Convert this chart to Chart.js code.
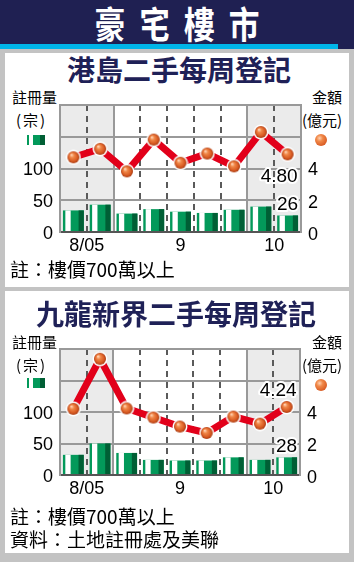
<!DOCTYPE html>
<html>
<head>
<meta charset="utf-8">
<script src="https://cdn.jsdelivr.net/npm/chart.js@4"></script>
<style>
  body { margin: 0; background: #fff; }
  #wrap { position: relative; width: 354px; height: 562px; background: #c3c3c3; overflow: hidden; font-family: "Noto Sans CJK TC", sans-serif; }
  .abs { position: absolute; white-space: nowrap; }
  .panel { position: absolute; left: 5px; width: 344px; background: #fff; }
  .title { left: 0; width: 354px; text-align: center; font-weight: bold; font-size: 28px; line-height: 28px; color: #1f2157; }
  .unit { font-size: 15px; line-height: 15px; color: #000; }
  .note { left: 10px; font-size: 19px; line-height: 19px; color: #000; }
  .ball { position: absolute; width: 12px; height: 12px; border-radius: 50%;
          background: radial-gradient(circle at 38% 35%, #ffd0b0 0, #f08848 30%, #d85a22 75%, #a83a10 100%); }
  .barIcon { position: absolute; width: 18px; height: 10px; }
  .barIcon i { position: absolute; top: 0; height: 10px; }
  canvas { position: absolute; left: 0; }
</style>
</head>
<body>
<div id="wrap">
  <div class="abs" style="left:0;top:0;width:354px;height:44px;background:#1f2052"></div>
  <div class="abs" style="left:0;top:44px;width:338px;height:5px;background:#00b5e8"></div>
  <div class="abs" style="left:338px;top:44px;width:16px;height:5px;background:#1f2052"></div>
  <div class="abs" style="left:0;top:5px;width:354px;text-align:center;color:#fff;font-weight:bold;font-size:37px;line-height:37px;letter-spacing:17px;padding-left:17px;box-sizing:border-box;transform:scaleX(0.83)">豪宅樓市</div>

  <div class="panel" style="top:53px;height:234px"></div>
  <div class="panel" style="top:291px;height:262px"></div>

  <div class="abs title" style="top:55px;left:2px">港島二手每周登記</div>
  <div class="abs unit" style="left:12px;top:89px">註冊量</div>
  <div class="abs unit" style="left:16px;top:112px;letter-spacing:2px">(宗)</div>
  <div class="barIcon" style="left:27px;top:135px"><i style="left:0;width:2px;background:#03995a"></i><i style="left:6px;width:7px;background:#03995a"></i><i style="left:13px;width:5px;background:#005f35"></i></div>
  <div class="abs unit" style="left:312px;top:89px">金額</div>
  <div class="abs unit" style="left:302px;top:112px">(億元)</div>
  <div class="ball" style="left:315px;top:134px"></div>
  <canvas id="c1" width="354" height="172" style="top:90px"></canvas>
  <div class="abs note" style="top:259px">註：樓價700萬以上</div>

  <div class="abs title" style="top:299px;left:-1px">九龍新界二手每周登記</div>
  <div class="abs unit" style="left:12px;top:334px">註冊量</div>
  <div class="abs unit" style="left:16px;top:357px;letter-spacing:2px">(宗)</div>
  <div class="barIcon" style="left:27px;top:378px"><i style="left:0;width:2px;background:#03995a"></i><i style="left:6px;width:7px;background:#03995a"></i><i style="left:13px;width:5px;background:#005f35"></i></div>
  <div class="abs unit" style="left:312px;top:334px">金額</div>
  <div class="abs unit" style="left:302px;top:357px">(億元)</div>
  <div class="ball" style="left:315px;top:379px"></div>
  <canvas id="c2" width="354" height="171" style="top:334px"></canvas>
  <div class="abs note" style="top:506px">註：樓價700萬以上</div>
  <div class="abs note" style="top:529px">資料：土地註冊處及美聯</div>
</div>

<script>
// weekly periods, late Aug 2005 to early Oct 2005
const weeks = ["8月4周", "8月5周", "9月1周", "9月2周", "9月3周", "9月4周", "9月5周", "10月1周", "10月2周"];
const monthTicks = [0.5, 4, 7.5];
const monthLabels = ["8/05", "9", "10"];
const monthEdges = [1.5, 6.5];
const shadeRanges = [[-0.5, 1.5], [6.5, 8.5]];

const countTicks = [0, 50, 100, 150, 200];
const amountTicks = [0, 2, 4];

// 港島
const hkCount = [34, 43, 29, 36, 32, 30, 35, 40, 26];
const hkAmount = [4.62, 5.14, 3.75, 5.71, 4.28, 4.85, 4.06, 6.18, 4.80];
// 九龍新界
const klnCount = [32, 50, 35, 24, 23, 23, 28, 24, 28];
const klnAmount = [4.12, 7.24, 4.15, 3.58, 3.02, 2.62, 3.64, 3.20, 4.24];

const GREEN = "#03995a", DARK_GREEN = "#005f35", RED = "#e2001a";
const tickFont = { family: "Liberation Sans", size: 18 };

function makeBall() {
  const c = document.createElement("canvas");
  c.width = 16; c.height = 16;
  const g = c.getContext("2d");
  g.fillStyle = "#fff";
  g.beginPath(); g.arc(8, 8, 7.5, 0, Math.PI * 2); g.fill();
  const grad = g.createRadialGradient(6, 5.5, 0.5, 8, 8, 6);
  grad.addColorStop(0, "#ffd0b0");
  grad.addColorStop(0.3, "#f08848");
  grad.addColorStop(0.75, "#d85a22");
  grad.addColorStop(1, "#a83a10");
  g.fillStyle = grad;
  g.beginPath(); g.arc(8, 8, 6, 0, Math.PI * 2); g.fill();
  return c;
}
const ball = makeBall();

// grey background for the partial months
const shadePlugin = {
  id: "shade",
  beforeDraw(chart) {
    const { ctx, chartArea } = chart;
    const xs = chart.scales.xMonth;
    ctx.save();
    ctx.fillStyle = "#ebebeb";
    shadeRanges.forEach(r => {
      const a = xs.getPixelForValue(r[0]), b = xs.getPixelForValue(r[1]);
      ctx.fillRect(a, chartArea.top, b - a, chartArea.bottom - chartArea.top);
    });
    ctx.restore();
  }
};

// stripes on the bars (white gap + dark right side)
const barStripePlugin = {
  id: "barStripes",
  afterDatasetDraw(chart, args) {
    if (args.meta.type !== "bar") return;
    const ctx = chart.ctx;
    ctx.save();
    args.meta.data.forEach(el => {
      const { x, y, base, width } = el.getProps(["x", "y", "base", "width"], true);
      const left = x - width / 2;
      const top = Math.min(y, base), h = Math.abs(base - y);
      ctx.fillStyle = "#fff";
      ctx.fillRect(left + width * 0.115, top, width * 0.255, h);
      ctx.fillStyle = DARK_GREEN;
      ctx.fillRect(left + width * 0.75, top, width * 0.25, h);
    });
    ctx.restore();
  }
};

// value labels on the last week
const lastLabelPlugin = {
  id: "lastLabels",
  afterDatasetsDraw(chart, args, opts) {
    const ctx = chart.ctx;
    const barMeta = chart.getDatasetMeta(0), lineMeta = chart.getDatasetMeta(1);
    const n = barMeta.data.length - 1;
    const b = barMeta.data[n], p = lineMeta.data[n];
    const counts = chart.data.datasets[0].data, amounts = chart.data.datasets[1].data;
    ctx.save();
    ctx.font = "19px 'Liberation Sans'";
    ctx.textAlign = "right";
    ctx.textBaseline = "middle";
    ctx.lineJoin = "round";
    ctx.strokeStyle = "#fff";
    ctx.lineWidth = 4;
    ctx.fillStyle = "#000";
    const items = [
      [String(counts[n]), b.x + 10.5, b.y + opts.barDy],
      [amounts[n].toFixed(2), p.x + 10, p.y + opts.lineDy]
    ];
    items.forEach(([t, x, y]) => { ctx.strokeText(t, x, y); ctx.fillText(t, x, y); });
    ctx.restore();
  }
};

function makeChart(id, counts, amounts, rightWidth, barDy, lineDy) {
  return new Chart(document.getElementById(id), {
    type: "bar",
    data: {
      labels: weeks,
      datasets: [
        { type: "bar", data: counts, yAxisID: "y", xAxisID: "x", backgroundColor: GREEN,
          barPercentage: 0.78, categoryPercentage: 1, order: 2 },
        { type: "line", data: amounts, yAxisID: "y1", xAxisID: "x", borderColor: RED, borderWidth: 7,
          pointStyle: ball, pointRadius: 8, tension: 0, order: 1 }
      ]
    },
    options: {
      responsive: false,
      animation: false,
      layout: { padding: { top: 4, left: 0, right: 0, bottom: 0 } },
      plugins: {
        legend: { display: false },
        tooltip: { enabled: false },
        lastLabels: { barDy, lineDy }
      },
      scales: {
        x: {
          type: "category", position: "bottom", offset: true,
          grid: {
            offset: true, drawTicks: false, lineWidth: 2,
            color: c => [1, 3, 4, 5, 6, 8].includes(c.index) ? "#5a5a5a" : "transparent"
          },
          border: { display: false, dash: [6, 5] },
          ticks: { display: false },
          afterFit: s => { s.height = 0; s.paddingLeft = 0; s.paddingRight = 0; }
        },
        xMonth: {
          type: "linear", axis: "x", position: "bottom", min: -0.5, max: 8.5, offset: false,
          afterBuildTicks: s => { s.ticks = monthTicks.concat(monthEdges).sort((a, b) => a - b).map(v => ({ value: v })); },
          grid: {
            offset: false, drawTicks: false, lineWidth: 2,
            color: c => (c.tick && monthEdges.includes(c.tick.value)) ? "#999" : "transparent"
          },
          border: { color: "#555", width: 2 },
          ticks: {
            autoSkip: false, maxRotation: 0, padding: 3, color: "#000", font: tickFont,
            callback: v => { const i = monthTicks.indexOf(v); return i >= 0 ? monthLabels[i] : ""; }
          },
          afterFit: s => { s.height = 30; s.paddingLeft = 0; s.paddingRight = 0; }
        },
        y: {
          position: "left", min: 0, max: 200,
          afterBuildTicks: s => { s.ticks = countTicks.map(v => ({ value: v })); },
          grid: { color: "#999", lineWidth: 2, drawTicks: false },
          border: { color: "#999", width: 2 },
          ticks: { padding: 7, labelOffset: 2, color: "#000", font: tickFont,
            callback: v => v <= 100 ? v : "" },
          afterFit: s => { s.width = 60; s.paddingTop = 0; s.paddingBottom = 0; }
        },
        y1: {
          position: "right", min: 0, max: 7.85,
          afterBuildTicks: s => { s.ticks = amountTicks.map(v => ({ value: v })); },
          grid: { drawOnChartArea: false, drawTicks: false },
          border: { color: "#999", width: 2 },
          ticks: { padding: 7, labelOffset: 3, color: "#000", font: tickFont },
          afterFit: s => { s.width = rightWidth; s.paddingTop = 0; s.paddingBottom = 0; }
        }
      }
    },
    plugins: [shadePlugin, barStripePlugin, lastLabelPlugin]
  });
}

makeChart("c1", hkCount, hkAmount, 53, -10.5, 22);
makeChart("c2", klnCount, klnAmount, 54, -11, -16);
</script>
</body>
</html>
